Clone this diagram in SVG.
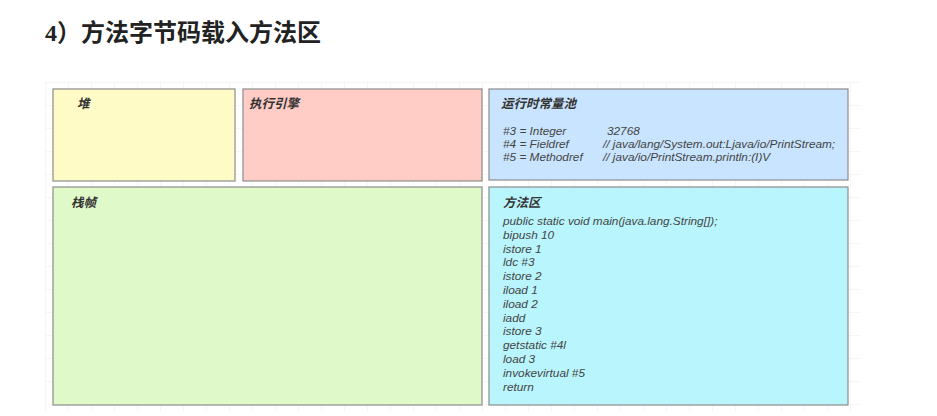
<svg xmlns="http://www.w3.org/2000/svg" width="937" height="416" viewBox="0 0 937 416">
<defs>
<pattern id="grid" width="23" height="23" patternUnits="userSpaceOnUse" x="45" y="82">
<path d="M 23 0 L 0 0 0 23" fill="none" stroke="#eeeeee" stroke-width="1"/>
</pattern>
</defs>
<style>
.box{stroke:#8c8c8c;stroke-width:1.2}
.lbl{font-family:"Liberation Sans","Noto Sans CJK SC",sans-serif;font-size:12.5px;font-weight:bold;font-style:italic;fill:#333}
.code{font-family:"Liberation Sans","Noto Sans CJK SC",sans-serif;font-size:11.8px;font-style:italic;fill:#444}
</style>
<rect width="937" height="416" fill="#ffffff"/>
<rect x="45" y="82" width="815" height="330" fill="url(#grid)"/>
<text x="45" y="41" font-family="'Liberation Serif','Noto Sans CJK SC',serif" font-size="24" font-weight="bold" fill="#222">4）<tspan font-family="'Noto Sans CJK SC',sans-serif">方法字节码载入方法区</tspan></text>
<g id="heap">
<rect class="box" x="53" y="89" width="182" height="92" fill="#fffbc6"/>
<text class="lbl" x="77" y="108">堆</text>
</g>
<g id="engine">
<rect class="box" x="243" y="89" width="239" height="92" fill="#ffccc6"/>
<text class="lbl" x="249" y="108">执行引擎</text>
</g>
<g id="pool">
<rect class="box" x="489" y="89" width="359" height="91" fill="#c9e4fe"/>
<text class="lbl" x="501" y="108">运行时常量池</text>
<text class="code" x="503" y="135">#3 = Integer</text>
<text class="code" x="607" y="135">32768</text>
<text class="code" x="503" y="148">#4 = Fieldref</text>
<text class="code" x="603" y="148">// java/lang/System.out:Ljava/io/PrintStream;</text>
<text class="code" x="503" y="161">#5 = Methodref</text>
<text class="code" x="603" y="161">// java/io/PrintStream.println:(I)V</text>
</g>
<g id="stack">
<rect class="box" x="53" y="187" width="429" height="218" fill="#e0f9c9"/>
<text class="lbl" x="71" y="207">栈帧</text>
</g>
<g id="method">
<rect class="box" x="489" y="187" width="359" height="218" fill="#b9f5fd"/>
<text class="lbl" x="503" y="207">方法区</text>
<text class="code" x="503" y="225">public static void main(java.lang.String[]);</text>
<text class="code" x="503" y="238.8">bipush 10</text>
<text class="code" x="503" y="252.6">istore 1</text>
<text class="code" x="503" y="266.4">ldc #3</text>
<text class="code" x="503" y="280.2">istore 2</text>
<text class="code" x="503" y="294">iload 1</text>
<text class="code" x="503" y="307.8">iload 2</text>
<text class="code" x="503" y="321.6">iadd</text>
<text class="code" x="503" y="335.4">istore 3</text>
<text class="code" x="503" y="349.2">getstatic #4l</text>
<text class="code" x="503" y="363">load 3</text>
<text class="code" x="503" y="376.8">invokevirtual #5</text>
<text class="code" x="503" y="390.6">return</text>
</g>
<g id="connectors"></g>
</svg>
